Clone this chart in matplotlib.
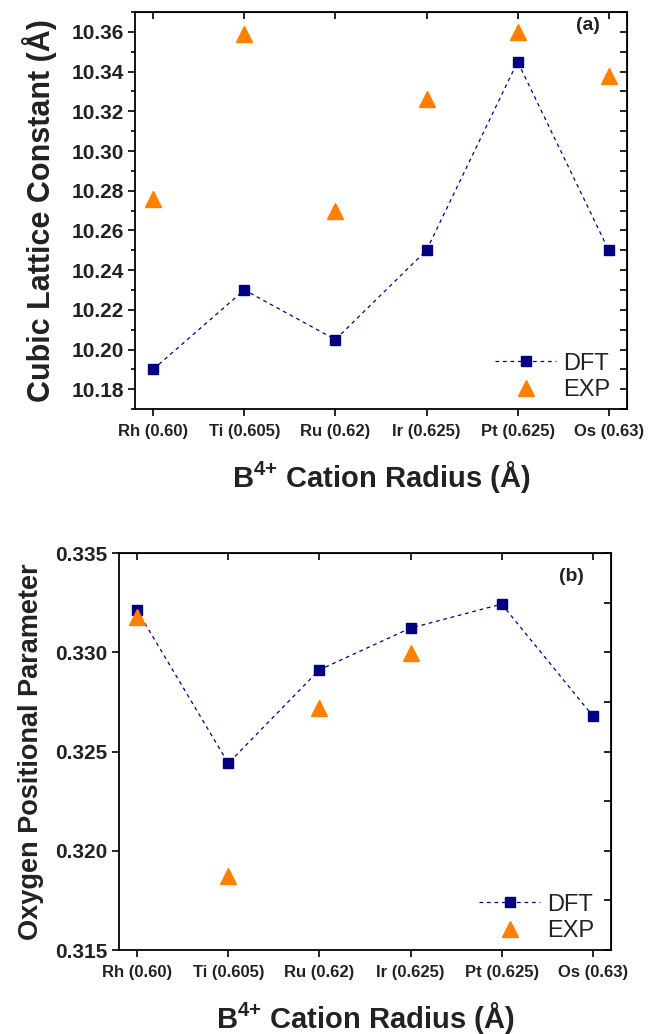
import numpy as np
import matplotlib
matplotlib.use("Agg")
import matplotlib.pyplot as plt

plt.rcParams['font.family'] = ['Liberation Sans', 'DejaVu Sans']
plt.rcParams['mathtext.fontset'] = 'custom'
plt.rcParams['mathtext.rm'] = 'Liberation Sans:bold'
plt.rcParams['mathtext.bf'] = 'Liberation Sans:bold'
plt.rcParams['mathtext.default'] = 'rm'

# data
cations = ['Rh (0.60)', 'Ti (0.605)', 'Ru (0.62)', 'Ir (0.625)', 'Pt (0.625)', 'Os (0.63)']
lattice_dft = [10.190, 10.230, 10.205, 10.250, 10.345, 10.250]
lattice_exp = [10.276, 10.359, 10.270, 10.326, 10.360, 10.338]
oxygen_dft = [0.33211, 0.32441, 0.32912, 0.33122, 0.33243, 0.32680]
oxygen_exp = [0.33176, 0.31875, 0.32718, 0.32996]  # no EXP for Pt, Os

navy = '#000080'
orange = '#FF8000'
x = np.arange(len(cations))

fig = plt.figure(figsize=(6.61, 10.34), dpi=100)
ax1 = fig.add_axes([0.2042, 0.6044, 0.7443, 0.3839])
ax2 = fig.add_axes([0.1800, 0.0812, 0.7443, 0.3839])


def style_axes(ax, yticks, yminor, right_ticks, fmt, ylabel, ylabel_size, ylabel_pad, tag, tag_y):
    ax.set_xlim(-0.2, 5.2)
    ax.set_xticks(x)
    ax.set_xticklabels(cations, fontsize=12, fontweight='bold', color='#222222')
    ax.set_yticks(yticks)
    ax.set_yticklabels([fmt % v for v in yticks], fontsize=15, fontweight='bold',
                       color='#222222')
    if yminor is not None:
        ax.set_yticks(yminor, minor=True)
    ax.tick_params(which='major', direction='out', length=5, width=1.2,
                   top=False, right=False, pad=3)
    ax.tick_params(which='minor', direction='out', length=3, width=1.2,
                   top=False, right=False)
    ax.tick_params(axis='x', pad=6)
    for s in ax.spines.values():
        s.set_linewidth(1.3)

    # inward ticks on top and right, no labels
    top = ax.secondary_xaxis('top')
    top.set_xticks(x)
    top.set_xticklabels([])
    top.tick_params(direction='in', length=5, width=1.2)
    right = ax.secondary_yaxis('right')
    right.set_yticks(right_ticks)
    right.set_yticklabels([])
    right.tick_params(direction='in', length=5, width=1.2)

    ax.set_xlabel(r'B$^{4{+}}$ Cation Radius (Å)', fontsize=21, fontweight='bold',
                  color='#222222', labelpad=14)
    ax.set_ylabel(ylabel, fontsize=ylabel_size, fontweight='bold',
                  color='#222222', labelpad=ylabel_pad)
    ax.text(0.92, tag_y, tag, transform=ax.transAxes, ha='center', va='center',
            fontsize=14, fontweight='bold', color='#222222')
    leg = ax.legend(loc='lower right', bbox_to_anchor=(1.0, -0.022), frameon=False,
                    fontsize=17, handlelength=2.6, handletextpad=0.3,
                    labelspacing=0.2, borderaxespad=0.3)
    for t in leg.get_texts():
        t.set_color('#222222')


# (a) cubic lattice constant
ax1.plot(x, lattice_dft, linestyle='--', dashes=(3, 3), linewidth=0.9, color=navy,
         marker='s', markersize=7.5, markerfacecolor=navy, markeredgecolor=navy,
         label='DFT')
ax1.plot(x, lattice_exp, linestyle='none', marker='^', markersize=11,
         color=orange, label='EXP')
ax1.set_ylim(10.17, 10.37)
yt1 = np.round(np.arange(10.18, 10.361, 0.02), 2)
ym1 = np.round(np.arange(10.17, 10.371, 0.01), 2)
style_axes(ax1, yt1, ym1, ym1, '%.2f', 'Cubic Lattice Constant (Å)', 22, 10, '(a)', 0.967)

# (b) oxygen positional parameter
ax2.plot(x, oxygen_dft, linestyle='--', dashes=(3, 3), linewidth=0.9, color=navy,
         marker='s', markersize=7.5, markerfacecolor=navy, markeredgecolor=navy,
         label='DFT')
ax2.plot(x[:len(oxygen_exp)], oxygen_exp, linestyle='none', marker='^', markersize=11,
         color=orange, label='EXP')
ax2.set_ylim(0.315, 0.335)
yt2 = np.round(np.arange(0.315, 0.3351, 0.005), 3)
yr2 = np.round(np.arange(0.315, 0.3351, 0.0025), 4)
style_axes(ax2, yt2, None, yr2, '%.3f', 'Oxygen Positional Parameter', 19.5, 8, '(b)', 0.94)

fig.savefig('out.png', dpi=100)
